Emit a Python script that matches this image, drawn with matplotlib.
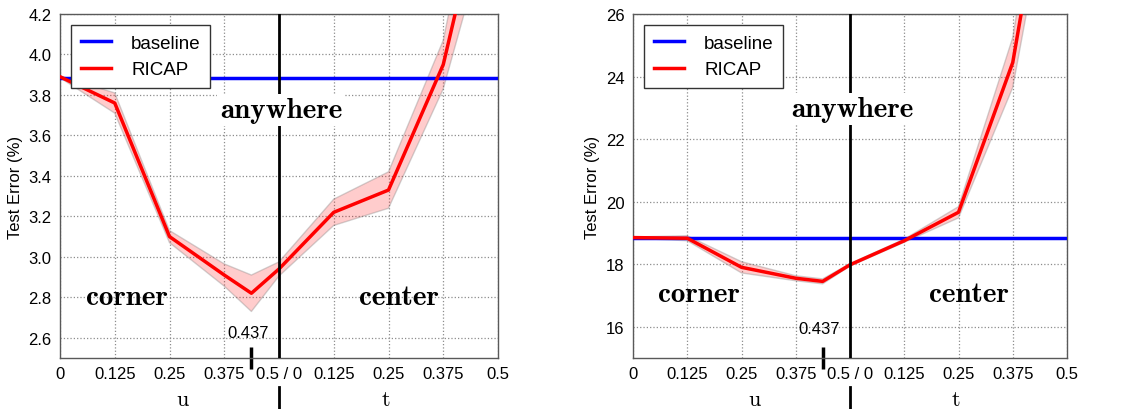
import matplotlib
matplotlib.use("Agg")
import matplotlib.pyplot as plt
import numpy as np

plt.rcParams['font.family'] = ['Liberation Sans', 'DejaVu Sans']

# sample positions: u on the left half, t on the right half of each panel
u_vals = [0.0, 0.125, 0.25, 0.375, 0.437, 0.5]
t_vals = [0.125, 0.25, 0.375, 0.5]

tick_pos = [0, 0.125, 0.25, 0.375, 0.5, 0.625, 0.75, 0.875, 1.0]
tick_labels = ['0', '0.125', '0.25', '0.375', '0.5 / 0', '0.125', '0.25', '0.375', '0.5']

# left panel
base_left = 3.885
mean_left = [3.89, 3.76, 3.10, 2.91, 2.82, 2.94, 3.22, 3.33, 3.95, 5.10]
std_left = [0.005, 0.05, 0.03, 0.055, 0.09, 0.035, 0.065, 0.09, 0.12, 0.30]

# right panel
base_right = 18.85
mean_right = [18.85, 18.83, 17.90, 17.55, 17.45, 17.98, 18.75, 19.66, 24.45, 34.5]
std_right = [0.02, 0.08, 0.18, 0.08, 0.08, 0.04, 0.05, 0.18, 0.80, 1.5]

X = np.array(u_vals + [0.5 + t for t in t_vals])

FIG_W, FIG_H = 1127, 410


def panel(rect, base, mean, std, ylim, yticks, ytext):
    ax = fig.add_axes(rect)
    mean = np.array(mean)
    std = np.array(std)
    ax.fill_between(X, mean - std, mean + std, facecolor=(1, 0, 0, 0.2),
                    edgecolor=(0.5, 0.5, 0.5, 0.35), lw=1.0, zorder=2)
    ax.axhline(base, color='blue', lw=2.5, label='baseline', zorder=3)
    ax.plot(X, mean, color='red', lw=2.5, label='RICAP', zorder=4)
    ax.axvline(0.5, color='black', lw=2, zorder=5)
    ax.plot([0.5, 0.5], [-0.085, -0.17], color='black', lw=2,
            transform=ax.transAxes, clip_on=False)

    ax.set_xlim(0, 1)
    ax.set_ylim(*ylim)
    ax.set_xticks(tick_pos)
    ax.set_xticklabels(tick_labels)
    ax.set_yticks(yticks)
    ax.set_xticks([0.437], minor=True)
    ax.tick_params(which='major', direction='in', length=0, labelsize=12, pad=6)
    ax.tick_params(which='minor', direction='inout', length=16, width=2.5, color='black')
    ax.grid(True, which='major', linestyle=':', color='0.55', lw=0.9)
    for s in ax.spines.values():
        s.set_color('0.35')
        s.set_linewidth(1.0)
    ax.set_ylabel('Test Error (%)', fontsize=12, labelpad=4)

    leg = ax.legend(loc='upper left', fontsize=13.5, fancybox=False, framealpha=1,
                    edgecolor='0.2', handlelength=1.6, handletextpad=1.1,
                    borderaxespad=0.6, borderpad=0.5)
    leg.get_frame().set_linewidth(1.0)

    serif_bold = dict(family='cmb10', fontsize=21, ha='center', va='center')
    ax.text(0.505, ytext[0], 'anywhere', bbox=dict(facecolor='white', edgecolor='none', pad=2),
            zorder=6, **serif_bold)
    ax.text(0.152, ytext[1], 'corner', zorder=6, **serif_bold)
    ax.text(0.774, ytext[1], 'center', zorder=6, **serif_bold)
    ax.text(0.43, ytext[2], '0.437', fontsize=12, ha='center', va='center')

    ax.text(0.28, -0.138, 'u', transform=ax.transAxes, family='cmr10',
            fontsize=16, ha='center', va='baseline')
    ax.text(0.744, -0.138, 't', transform=ax.transAxes, family='cmr10',
            fontsize=16, ha='center', va='baseline')
    return ax


fig = plt.figure(figsize=(FIG_W / 100, FIG_H / 100), dpi=100)

panel([60 / FIG_W, 51 / FIG_H, 438 / FIG_W, 344 / FIG_H], base_left, mean_left, std_left,
      (2.5, 4.2), np.arange(2.6, 4.21, 0.2), (3.725, 2.80, 2.625))
panel([633 / FIG_W, 51 / FIG_H, 434 / FIG_W, 344 / FIG_H], base_right, mean_right, std_right,
      (15, 26), np.arange(16, 26.1, 2), (22.96, 17.05, 15.93))

fig.savefig('out.png', dpi=100)
